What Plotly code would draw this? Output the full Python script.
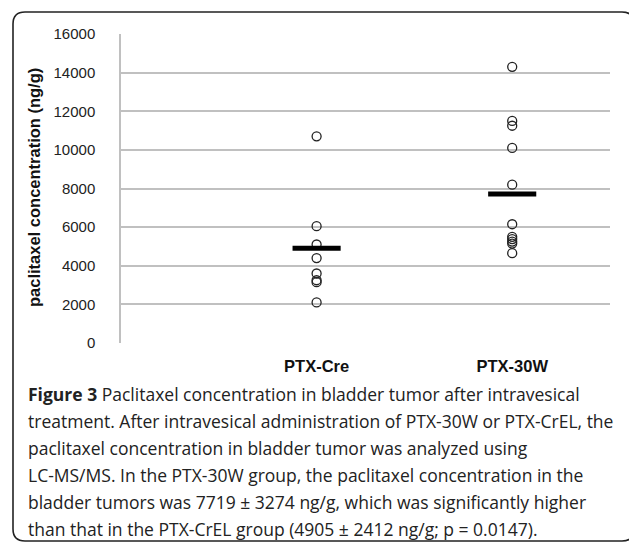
import plotly.graph_objects as go

# ---- data ----
groups = ["PTX-Cre", "PTX-30W"]
group_x = [1, 2]
ptx_cre = [10700, 6050, 5100, 4400, 3600, 3250, 3150, 2100]
ptx_30w = [14300, 11500, 11250, 10100, 8200, 6150, 5500, 5380, 5250, 5150, 4650]
means = [4905, 7719]
y_ticks = [0, 2000, 4000, 6000, 8000, 10000, 12000, 14000, 16000]
caption_lines = [
    "<b>Figure 3</b> Paclitaxel concentration in bladder tumor after intravesical",
    "treatment. After intravesical administration of PTX-30W or PTX-CrEL, the",
    "paclitaxel concentration in bladder tumor was analyzed using",
    "LC-MS/MS. In the PTX-30W group, the paclitaxel concentration in the",
    "bladder tumors was 7719 ± 3274 ng/g, which was significantly higher",
    "than that in the PTX-CrEL group (4905 ± 2412 ng/g; p = 0.0147).",
]

# page body adds an 8px margin: lay out in page pixels, shift by OFF
OFF = 8
W, H = 637 - OFF, 545 - OFF
PL, PR, PT, PB = 121, 610, 34, 343   # plot box in page pixels
ML, MT = PL - OFF, PT - OFF
MR, MB = W - (PR - OFF), H - (PB - OFF)
PW, PH = PR - PL, PB - PT


def px(x):
    return (x - PL) / PW


def py(y):
    return (PB - y) / PH


fig = go.Figure()

for gx, vals in zip(group_x, [ptx_cre, ptx_30w]):
    fig.add_trace(go.Scatter(
        x=[gx] * len(vals), y=vals, mode="markers",
        marker=dict(symbol="circle-open", size=9, color="#222222",
                    line=dict(width=1.3, color="#222222")),
        showlegend=False, hoverinfo="y"))

for gx, m in zip(group_x, means):
    fig.add_trace(go.Scatter(
        x=[gx - 0.123, gx + 0.123], y=[m, m], mode="lines",
        line=dict(color="black", width=5), showlegend=False, hoverinfo="skip"))

# rounded frame around figure
x0, x1, y0, y1, r = 13, 634, 12, 541, 12
path = (f"M {px(x0 + r)} {py(y0)} L {px(x1 - r)} {py(y0)} "
        f"Q {px(x1)} {py(y0)} {px(x1)} {py(y0 + r)} "
        f"L {px(x1)} {py(y1 - r)} Q {px(x1)} {py(y1)} {px(x1 - r)} {py(y1)} "
        f"L {px(x0 + r)} {py(y1)} Q {px(x0)} {py(y1)} {px(x0)} {py(y1 - r)} "
        f"L {px(x0)} {py(y0 + r)} Q {px(x0)} {py(y0)} {px(x0 + r)} {py(y0)} Z")
fig.add_shape(type="path", path=path, xref="paper", yref="paper",
              line=dict(color="#222222", width=1.6), layer="below")

# y axis title
fig.add_annotation(text="<b>paclitaxel concentration (ng/g)</b>", textangle=-90,
                   x=px(34), y=py(188), xref="paper", yref="paper",
                   xanchor="center", yanchor="middle",
                   showarrow=False, font=dict(family="Liberation Sans, Arial", size=16.5, color="#111111"))

# caption
line_y = [394, 421, 448, 475, 502, 529]
for t, ly in zip(caption_lines, line_y):
    fig.add_annotation(text=t, x=px(26), y=py(ly), xref="paper", yref="paper",
                       xanchor="left", yanchor="middle", showarrow=False,
                       font=dict(family="Open Sans", size=17.5, color="#222222"))

fig.update_layout(
    width=W, height=H,
    margin=dict(l=ML, r=MR, t=MT, b=MB, pad=0),
    paper_bgcolor="white", plot_bgcolor="white",
    xaxis=dict(range=[0, 2.5], tickvals=group_x,
               ticktext=[f"<b>{g}</b>" for g in groups],
               showgrid=False, zeroline=False, showline=False, ticks="",
               ticklabelstandoff=11,
               tickfont=dict(family="Liberation Sans, Arial", size=16.5, color="#111111")),
    yaxis=dict(range=[0, 16000], tickvals=y_ticks,
               ticktext=[str(v) for v in y_ticks],
               showgrid=True, gridcolor="#c0c0c0", gridwidth=1.5,
               zeroline=False, showline=True, linecolor="#c0c0c0", linewidth=1.5,
               ticks="", ticklabelstandoff=21,
               tickfont=dict(family="Liberation Sans, Arial", size=15, color="#222222")),
)

fig.write_html("out.html")
